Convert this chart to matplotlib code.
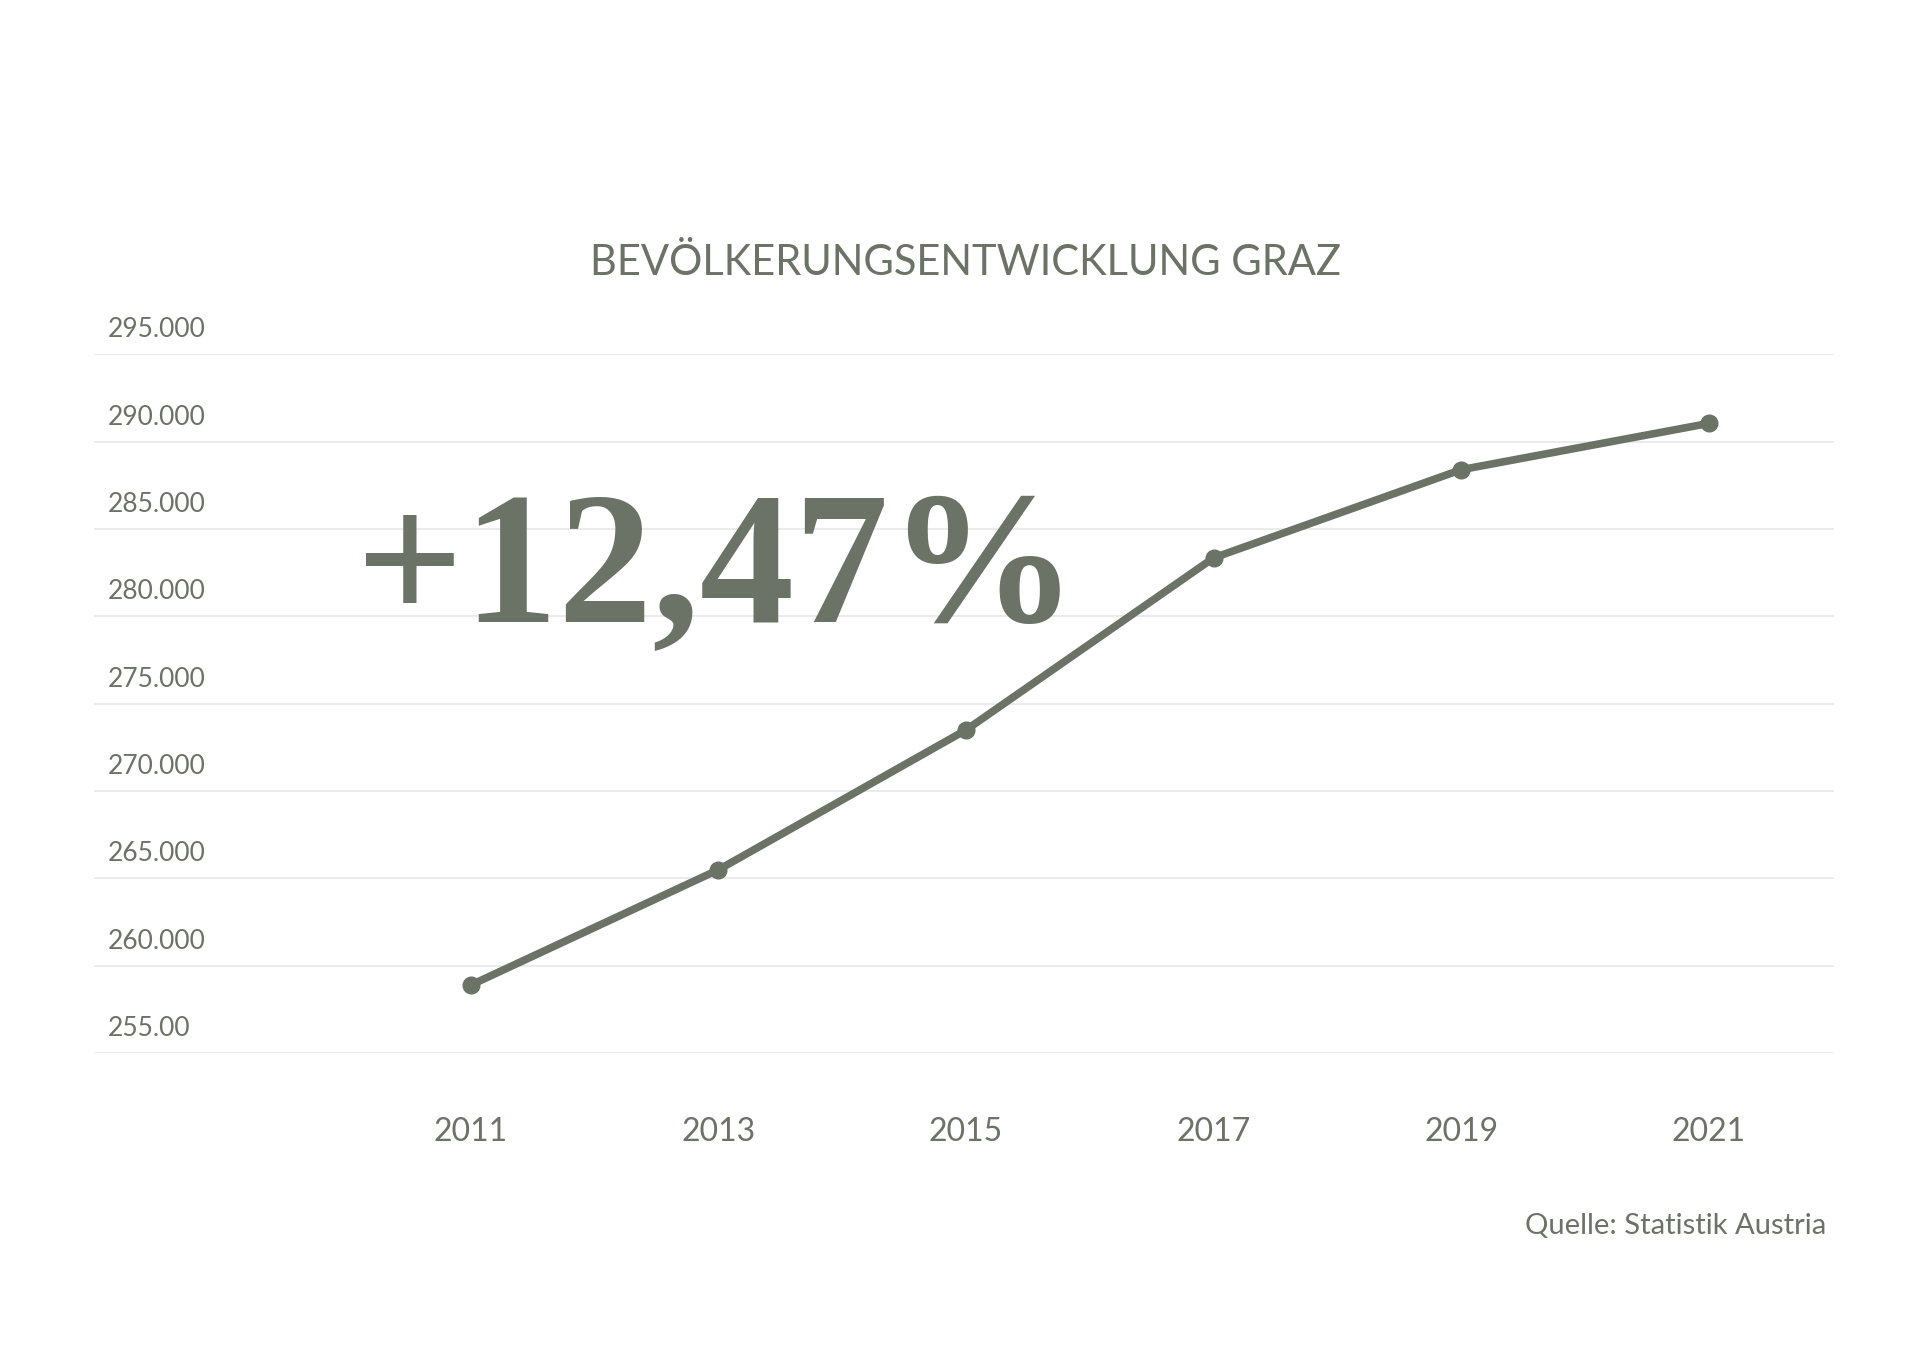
import matplotlib
matplotlib.use('Agg')
import matplotlib.pyplot as plt

years = [2011, 2013, 2015, 2017, 2019, 2021]
population = [258900, 265500, 273500, 283350, 288400, 291050]
yticks = [255000, 260000, 265000, 270000, 275000, 280000, 285000, 290000, 295000]
ytickLabels = ['255.00', '260.000', '265.000', '270.000', '275.000', '280.000', '285.000', '290.000', '295.000']

col = '#6b7266'
plt.rcParams['font.family'] = ['Lato', 'DejaVu Sans']

fig = plt.figure(figsize=(19.2, 13.58), dpi=100)
ax = fig.add_axes([0.049, 0.2245, 0.906, 0.5145])
ax.set_xlim(2007.955, 2022.01)
ax.set_ylim(255000, 295000)

for v, lab in zip(yticks, ytickLabels):
    ax.axhline(v, color='#e8e8e8', lw=1.2, zorder=0)
    ax.text(0.008, v + 700, lab, transform=ax.get_yaxis_transform(), color=col,
            fontsize=19, fontweight='normal', va='bottom', ha='left')

ax.plot(years, population, color=col, lw=5.5, marker='o', ms=12, solid_capstyle='round', zorder=3)

for y in years:
    ax.text(y, 250500, str(y), color=col, fontsize=23, fontweight='normal', ha='center', va='center')

ax.set_xticks([])
ax.set_yticks([])
for s in ax.spines.values():
    s.set_visible(False)

# big percentage label
ax.text(2010.07, 282300, '+12,47%', color=col, fontsize=136, fontweight='bold',
        family='Liberation Serif', ha='left', va='center', zorder=4)

fig.text(0.503, 0.806, 'BEVÖLKERUNGSENTWICKLUNG GRAZ', color=col, fontsize=30,
         fontweight='normal', ha='center', va='center')
fig.text(0.951, 0.097, 'Quelle: Statistik Austria', color=col, fontsize=21,
         fontweight='normal', ha='right', va='center')

fig.savefig('out.png', dpi=100, facecolor='white')
